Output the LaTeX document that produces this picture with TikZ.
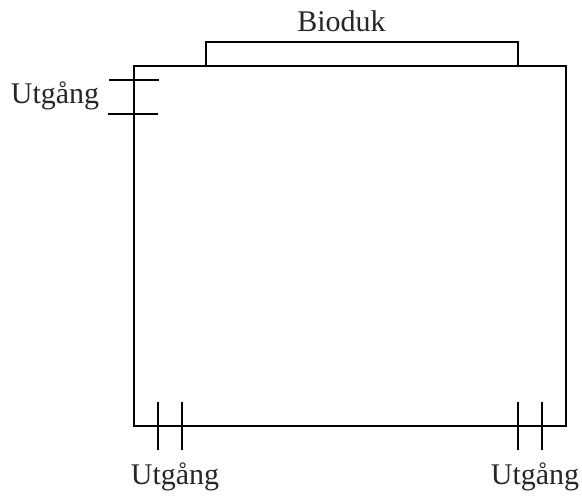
\documentclass[tikz,border=0pt]{standalone}
\usepackage{fontspec}
\setmainfont{Liberation Serif}
\usetikzlibrary{positioning}
\begin{document}
\begin{tikzpicture}[x=1pt, y=-1pt,
  wall/.style={draw, line width=2pt, inner sep=0pt, anchor=north west},
  doormark/.style={draw, line width=1.7pt},
  doorlabel/.style={font=\fontsize{30}{33}\selectfont, inner sep=0pt, anchor=base, text=black!85}
]
  \useasboundingbox (0, 0) rectangle (582, 497);
  \node[wall, minimum width=432pt, minimum height=360pt] (room) at (132.8, 65.5) {};
  \node[wall, minimum width=312pt, minimum height=24pt] (screen) at (204.8, 41.5) {};
  \node[doorlabel] (screenlabel) at (341.5, 32) {Bioduk};
  \node[doorlabel] (leftlabel) at (55, 103.5) {Utgång};
  \node[doorlabel] (bottomleftlabel) at (175, 485) {Utgång};
  \node[doorlabel] (bottomrightlabel) at (535, 485) {Utgång};

  % door marks, left wall
  \coordinate (la) at (109, 80);
  \coordinate (lb) at (159, 80);
  \coordinate (lc) at (108, 114);
  \coordinate (ld) at (158, 114);
  \draw[doormark] (la) -- (lb);
  \draw[doormark] (lc) -- (ld);

  % door marks, bottom wall
  \foreach \xpos/\tag in {158/a, 182/b, 518/c, 542/d} {
    \coordinate (t\tag) at (\xpos, 402);
    \coordinate (u\tag) at (\xpos, 450);
    \draw[doormark] (t\tag) -- (u\tag);
  }
\end{tikzpicture}
\end{document}
